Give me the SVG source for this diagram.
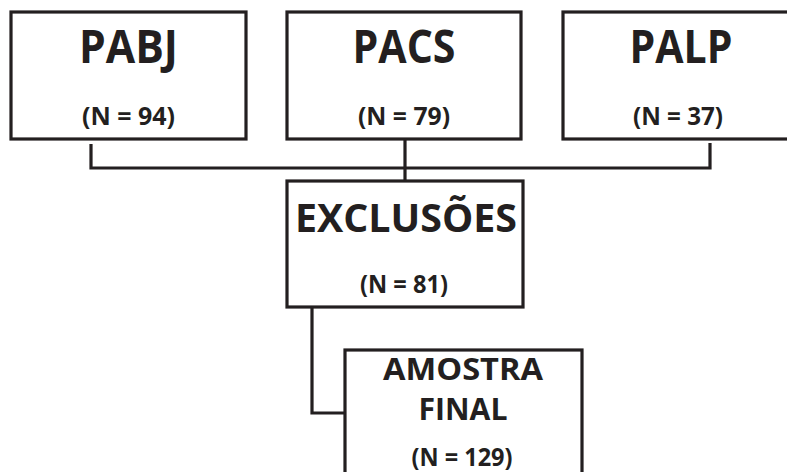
<svg xmlns="http://www.w3.org/2000/svg" width="787" height="472" viewBox="0 0 787 472">
<style>
.box{fill:#fff;stroke:#231f20;stroke-width:3.2;}
.con{fill:none;stroke:#231f20;stroke-width:3.2;stroke-linejoin:miter;}
text{font-family:"Open Sans","Liberation Sans",sans-serif;font-weight:bold;fill:#231f20;text-anchor:middle;}
.t{font-size:46px;}
.n{font-size:25px;}
.e{font-size:39px;}
.a{font-size:31px;}
</style>
<rect width="787" height="472" fill="#fff"/>
<g id="connectors">
<path class="con" d="M91,144 V168 H710 V143"/>
<path class="con" d="M405,139 V181"/>
<path class="con" d="M312,307 V413 H345"/>
</g>
<g id="pabj">
<rect class="box" x="11" y="12" width="235" height="127"/>
<text class="t" x="128.5" y="63" textLength="99" lengthAdjust="spacingAndGlyphs">PABJ</text>
<text class="n" x="128.5" y="125" textLength="93" lengthAdjust="spacingAndGlyphs">(N = 94)</text>
</g>
<g id="pacs">
<rect class="box" x="287" y="12" width="234" height="127"/>
<text class="t" x="404" y="63" textLength="103" lengthAdjust="spacingAndGlyphs">PACS</text>
<text class="n" x="404" y="125" textLength="92" lengthAdjust="spacingAndGlyphs">(N = 79)</text>
</g>
<g id="palp">
<rect class="box" x="563" y="12" width="240" height="127"/>
<text class="t" x="681" y="63" textLength="103" lengthAdjust="spacingAndGlyphs">PALP</text>
<text class="n" x="678" y="125" textLength="90" lengthAdjust="spacingAndGlyphs">(N = 37)</text>
</g>
<g id="exclusoes">
<rect class="box" x="287" y="181" width="236" height="126"/>
<text class="e" x="406" y="232" textLength="222" lengthAdjust="spacingAndGlyphs">EXCLUSÕES</text>
<text class="n" x="404" y="293" textLength="88" lengthAdjust="spacingAndGlyphs">(N = 81)</text>
</g>
<g id="amostra">
<rect class="box" x="345" y="350" width="237" height="140"/>
<text class="a" x="463" y="380" textLength="160" lengthAdjust="spacingAndGlyphs">AMOSTRA</text>
<text class="a" x="463" y="420" textLength="89" lengthAdjust="spacingAndGlyphs">FINAL</text>
<text class="n" x="462" y="466" textLength="101" lengthAdjust="spacingAndGlyphs">(N = 129)</text>
</g>
</svg>
